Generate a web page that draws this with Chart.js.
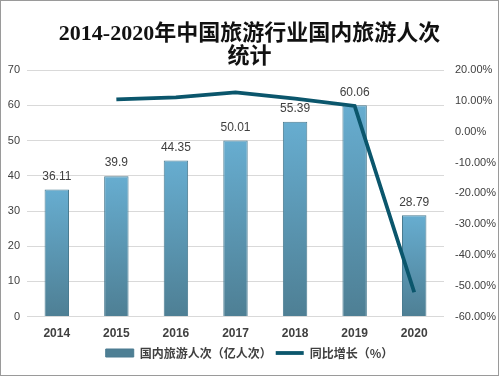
<!DOCTYPE html>
<html>
<head>
<meta charset="utf-8">
<script src="https://cdn.jsdelivr.net/npm/chart.js@4/dist/chart.umd.min.js"></script>
<style>
  html, body { margin: 0; padding: 0; background: #fff; }
  #wrap { width: 499px; height: 376px; box-sizing: border-box; border: 1px solid #9a9a9a; background: #fff; }
</style>
</head>
<body>
<div id="wrap"><canvas id="chart" width="497" height="374"></canvas></div>
<script>
const years = ['2014', '2015', '2016', '2017', '2018', '2019', '2020'];
const trips = [36.11, 39.9, 44.35, 50.01, 55.39, 60.06, 28.79];
const growth = [null, 10.5, 11.2, 12.8, 10.8, 8.4, -52.1];
const leftTicks = [0, 10, 20, 30, 40, 50, 60, 70];

const textCol = '#404040';
const lineCol = '#0b566c';
const tickFont = '"Liberation Sans", Arial, sans-serif';

// each bar gets its own top-to-bottom gradient
function barGradient(ctx) {
    const chart = ctx.chart;
    const area = chart.chartArea;
    if (!area || ctx.type !== 'data') return '#5f9fbf';
    const yScale = chart.scales.y;
    const top = yScale.getPixelForValue(trips[ctx.dataIndex]);
    const g = chart.ctx.createLinearGradient(0, top, 0, area.bottom);
    g.addColorStop(0, '#67add0');
    g.addColorStop(1, '#4e7f94');
    return g;
}

// value labels above the bars (bar dataset is index 1)
const barLabels = {
    id: 'barLabels',
    afterDatasetsDraw(chart) {
        const ctx = chart.ctx;
        const meta = chart.getDatasetMeta(1);
        ctx.save();
        ctx.font = '12px ' + tickFont;
        ctx.fillStyle = textCol;
        ctx.textAlign = 'center';
        ctx.textBaseline = 'bottom';
        meta.data.forEach((bar, i) => {
            ctx.fillText(String(trips[i]), bar.x, bar.y - 7);
        });
        ctx.restore();
    }
};

new Chart(document.getElementById('chart'), {
    data: {
        labels: years,
        datasets: [
            {
                type: 'line',
                label: '同比增长（%）',
                data: growth,
                yAxisID: 'y2',
                borderColor: lineCol,
                backgroundColor: lineCol,
                borderWidth: 3.8,
                pointRadius: 0,
                pointStyle: 'line',
                tension: 0,
                order: 1
            },
            {
                type: 'bar',
                label: '国内旅游人次（亿人次）',
                data: trips,
                yAxisID: 'y',
                backgroundColor: barGradient,
                borderColor: '#4a7b90',
                borderWidth: 1,
                pointStyle: 'rect',
                categoryPercentage: 1,
                barPercentage: 0.41,
                order: 2
            }
        ]
    },
    options: {
        responsive: false,
        animation: false,
        layout: { padding: { left: 0, right: 0, top: 0, bottom: 6 } },
        plugins: {
            title: {
                display: true,
                text: ['2014-2020年中国旅游行业国内旅游人次', '统计'],
                color: '#111',
                font: { size: 22, weight: 'bold', family: '"Liberation Serif", "Noto Sans CJK SC", serif', lineHeight: 1.05 },
                padding: { top: 22, bottom: 1 }
            },
            legend: {
                position: 'bottom',
                reverse: true,
                labels: {
                    usePointStyle: true,
                    pointStyleWidth: 28,
                    boxHeight: 8,
                    color: textCol,
                    padding: 4,
                    font: { size: 12, weight: 'bold', family: '"Noto Sans CJK SC", sans-serif' }
                }
            },
            tooltip: { enabled: false }
        },
        scales: {
            x: {
                grid: { display: false },
                border: { display: false },
                ticks: { color: textCol, font: { size: 12, weight: 'bold', family: tickFont }, padding: 2 }
            },
            y: {
                position: 'left',
                min: 0,
                max: 70,
                afterBuildTicks(axis) { axis.ticks = leftTicks.map(v => ({ value: v })); },
                afterFit(axis) { axis.width = 26; },
                grid: { color: '#d9d9d9', drawTicks: false },
                border: { display: false },
                ticks: { color: textCol, font: { size: 11, family: tickFont }, padding: 7 }
            },
            y2: {
                position: 'right',
                min: -60,
                max: 20,
                afterFit(axis) { axis.width = 54; },
                grid: { display: false, drawTicks: false },
                border: { display: false },
                ticks: {
                    stepSize: 10,
                    color: textCol,
                    font: { size: 11, family: tickFont },
                    padding: 11,
                    callback: v => v.toFixed(2) + '%'
                }
            }
        }
    },
    plugins: [barLabels]
});
</script>
</body>
</html>
